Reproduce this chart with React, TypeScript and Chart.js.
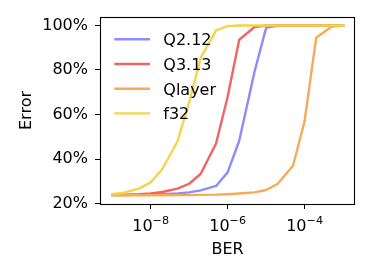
import React, { useEffect, useRef } from "react";
import { Chart, registerables } from "chart.js";

Chart.register(...registerables);

const berValues = [1e-9, 2e-9, 5e-9, 1e-8, 2e-8, 5e-8, 1e-7, 2e-7, 5e-7, 1e-6, 2e-6, 5e-6, 1e-5, 2e-5, 5e-5, 1e-4, 2e-4, 5e-4, 1e-3];

const q212 = [23.8, 23.8, 23.9, 24.0, 24.2, 24.5, 25.0, 25.9, 27.9, 34.0, 48.2, 79.2, 98.9, 100, 100, 100, 100, 100, 100];
const q313 = [23.9, 24.0, 24.2, 24.5, 25.2, 26.7, 28.9, 33.4, 47.0, 68.0, 93.6, 99.3, 100, 100, 100, 100, 100, 100, 100];
const qlayer = [23.7, 23.7, 23.7, 23.7, 23.7, 23.8, 23.8, 23.9, 24.0, 24.2, 24.5, 25.0, 26.1, 28.9, 37.0, 57.0, 94.5, 99.4, 100];
const f32 = [24.2, 24.9, 26.7, 29.5, 35.4, 48.0, 65.5, 85.5, 97.8, 99.7, 100, 100, 100, 100, 100, 100, 100, 100, 100];

const seriesNames = ["Q2.12", "Q3.13", "Qlayer", "f32"];
const seriesColors = ["#8c8cfc", "#f26464", "#f8aa55", "#f2d548"];
const seriesData = [q212, q313, qlayer, f32];

const xTickValues = [1e-8, 1e-6, 1e-4];
const xTickBases = ["10", "10", "10"];
const xTickExponents = ["−8", "−6", "−4"];
const yTickValues = [20, 40, 60, 80, 100];
const yTickLabels = ["20%", "40%", "60%", "80%", "100%"];

const FONT = "'DejaVu Sans', sans-serif";
const LINE_W = 2.4;

const framePlugin = {
  id: "frameAndLegend",
  afterDatasetsDraw(chart: any) {
    const ctx = chart.ctx;
    ctx.save();
    const x0 = 114.3;
    const x1 = 150;
    const yStart = 39.3;
    const dy = 24.7;
    ctx.font = `16px ${FONT}`;
    ctx.textBaseline = "alphabetic";
    ctx.textAlign = "left";
    seriesNames.forEach((name, i) => {
      const y = yStart + i * dy;
      ctx.strokeStyle = seriesColors[i];
      ctx.lineWidth = LINE_W;
      ctx.lineCap = "butt";
      ctx.beginPath();
      ctx.moveTo(x0, y);
      ctx.lineTo(x1, y);
      ctx.stroke();
      ctx.fillStyle = "#000";
      ctx.fillText(name, 163.3, y + 5.8);
    });
    ctx.restore();
  },
  afterDraw(chart: any) {
    const { ctx, chartArea } = chart;
    ctx.save();
    ctx.strokeStyle = "#000";
    ctx.lineWidth = 1.1;
    ctx.strokeRect(
      Math.round(chartArea.left) + 0.5,
      Math.round(chartArea.top) + 0.5,
      Math.round(chartArea.right - chartArea.left) - 1,
      Math.round(chartArea.bottom - chartArea.top)
    );
    // x tick labels with superscript exponents (matplotlib mathtext style)
    const xs = chart.scales.x;
    const baseY = chartArea.bottom + 26.7;
    xTickValues.forEach((v, i) => {
      const px = xs.getPixelForValue(v);
      ctx.font = `16px ${FONT}`;
      const wb = ctx.measureText(xTickBases[i]).width;
      ctx.font = `11.2px ${FONT}`;
      const we = ctx.measureText(xTickExponents[i]).width;
      const left = px - (wb + we) / 2;
      ctx.fillStyle = "#000";
      ctx.textAlign = "left";
      ctx.textBaseline = "alphabetic";
      ctx.font = `16px ${FONT}`;
      ctx.fillText(xTickBases[i], left, baseY);
      ctx.font = `11.2px ${FONT}`;
      ctx.fillText(xTickExponents[i], left + wb, baseY - 6.5);
    });
    ctx.restore();
  },
};

export default function App() {
  const canvasRef = useRef<HTMLCanvasElement | null>(null);

  useEffect(() => {
    document.body.style.margin = "0";
    const canvas = canvasRef.current;
    if (!canvas) return;
    Chart.defaults.font.family = FONT;
    Chart.defaults.color = "#000";

    const chart = new Chart(canvas, {
      type: "line",
      data: {
        datasets: seriesNames.map((name, i) => ({
          label: name,
          data: berValues.map((x, j) => ({ x, y: seriesData[i][j] })),
          borderColor: seriesColors[i],
          backgroundColor: seriesColors[i],
          borderWidth: LINE_W,
          pointRadius: 0,
          tension: 0,
          fill: false,
          borderCapStyle: "square",
          borderJoinStyle: "round",
          order: seriesNames.length - i,
        })),
      },
      options: {
        animation: false,
        responsive: false,
        devicePixelRatio: 1,
        layout: { padding: { left: 0, top: 17, right: 18, bottom: 0 } },
        plugins: {
          legend: { display: false },
          tooltip: { enabled: false },
        },
        scales: {
          x: {
            type: "logarithmic",
            min: Math.pow(10, -9.317),
            max: Math.pow(10, -2.69),
            afterBuildTicks: (axis: any) => {
              axis.ticks = xTickValues.map((v) => ({ value: v }));
            },
            afterFit: (axis: any) => {
              axis.height = 71;
            },
            ticks: {
              callback: () => "",
              font: { size: 16, family: FONT },
              color: "#000",
              padding: 7,
              maxRotation: 0,
              autoSkip: false,
            },
            grid: {
              display: true,
              drawOnChartArea: false,
              drawTicks: true,
              tickLength: 5,
              color: "#000",
              lineWidth: 1,
            },
            border: { display: false },
            title: {
              display: true,
              text: "BER",
              font: { size: 16, family: FONT },
              color: "#000",
              padding: { top: 0, bottom: 16 },
            },
          },
          y: {
            type: "linear",
            min: 19.8,
            max: 103.8,
            afterBuildTicks: (axis: any) => {
              axis.ticks = yTickValues.map((v) => ({ value: v }));
            },
            afterFit: (axis: any) => {
              axis.width = 100;
            },
            ticks: {
              callback: (v: any) => {
                const idx = yTickValues.indexOf(Math.round(v));
                return idx >= 0 ? yTickLabels[idx] : "";
              },
              font: { size: 16, family: FONT },
              color: "#000",
              padding: 7,
              autoSkip: false,
            },
            grid: {
              display: true,
              drawOnChartArea: false,
              drawTicks: true,
              tickLength: 5,
              color: "#000",
              lineWidth: 1,
            },
            border: { display: false },
            title: {
              display: true,
              text: "Error",
              font: { size: 16, family: FONT },
              color: "#000",
              padding: { top: 17, bottom: 0 },
            },
          },
        },
      },
      plugins: [framePlugin],
    } as any);

    return () => {
      chart.destroy();
    };
  }, []);

  return (
    <div style={{ position: "absolute", left: 0, top: 0, width: 373, height: 275 }}>
      <canvas ref={canvasRef} width={373} height={275} style={{ width: 373, height: 275 }} />
    </div>
  );
}
